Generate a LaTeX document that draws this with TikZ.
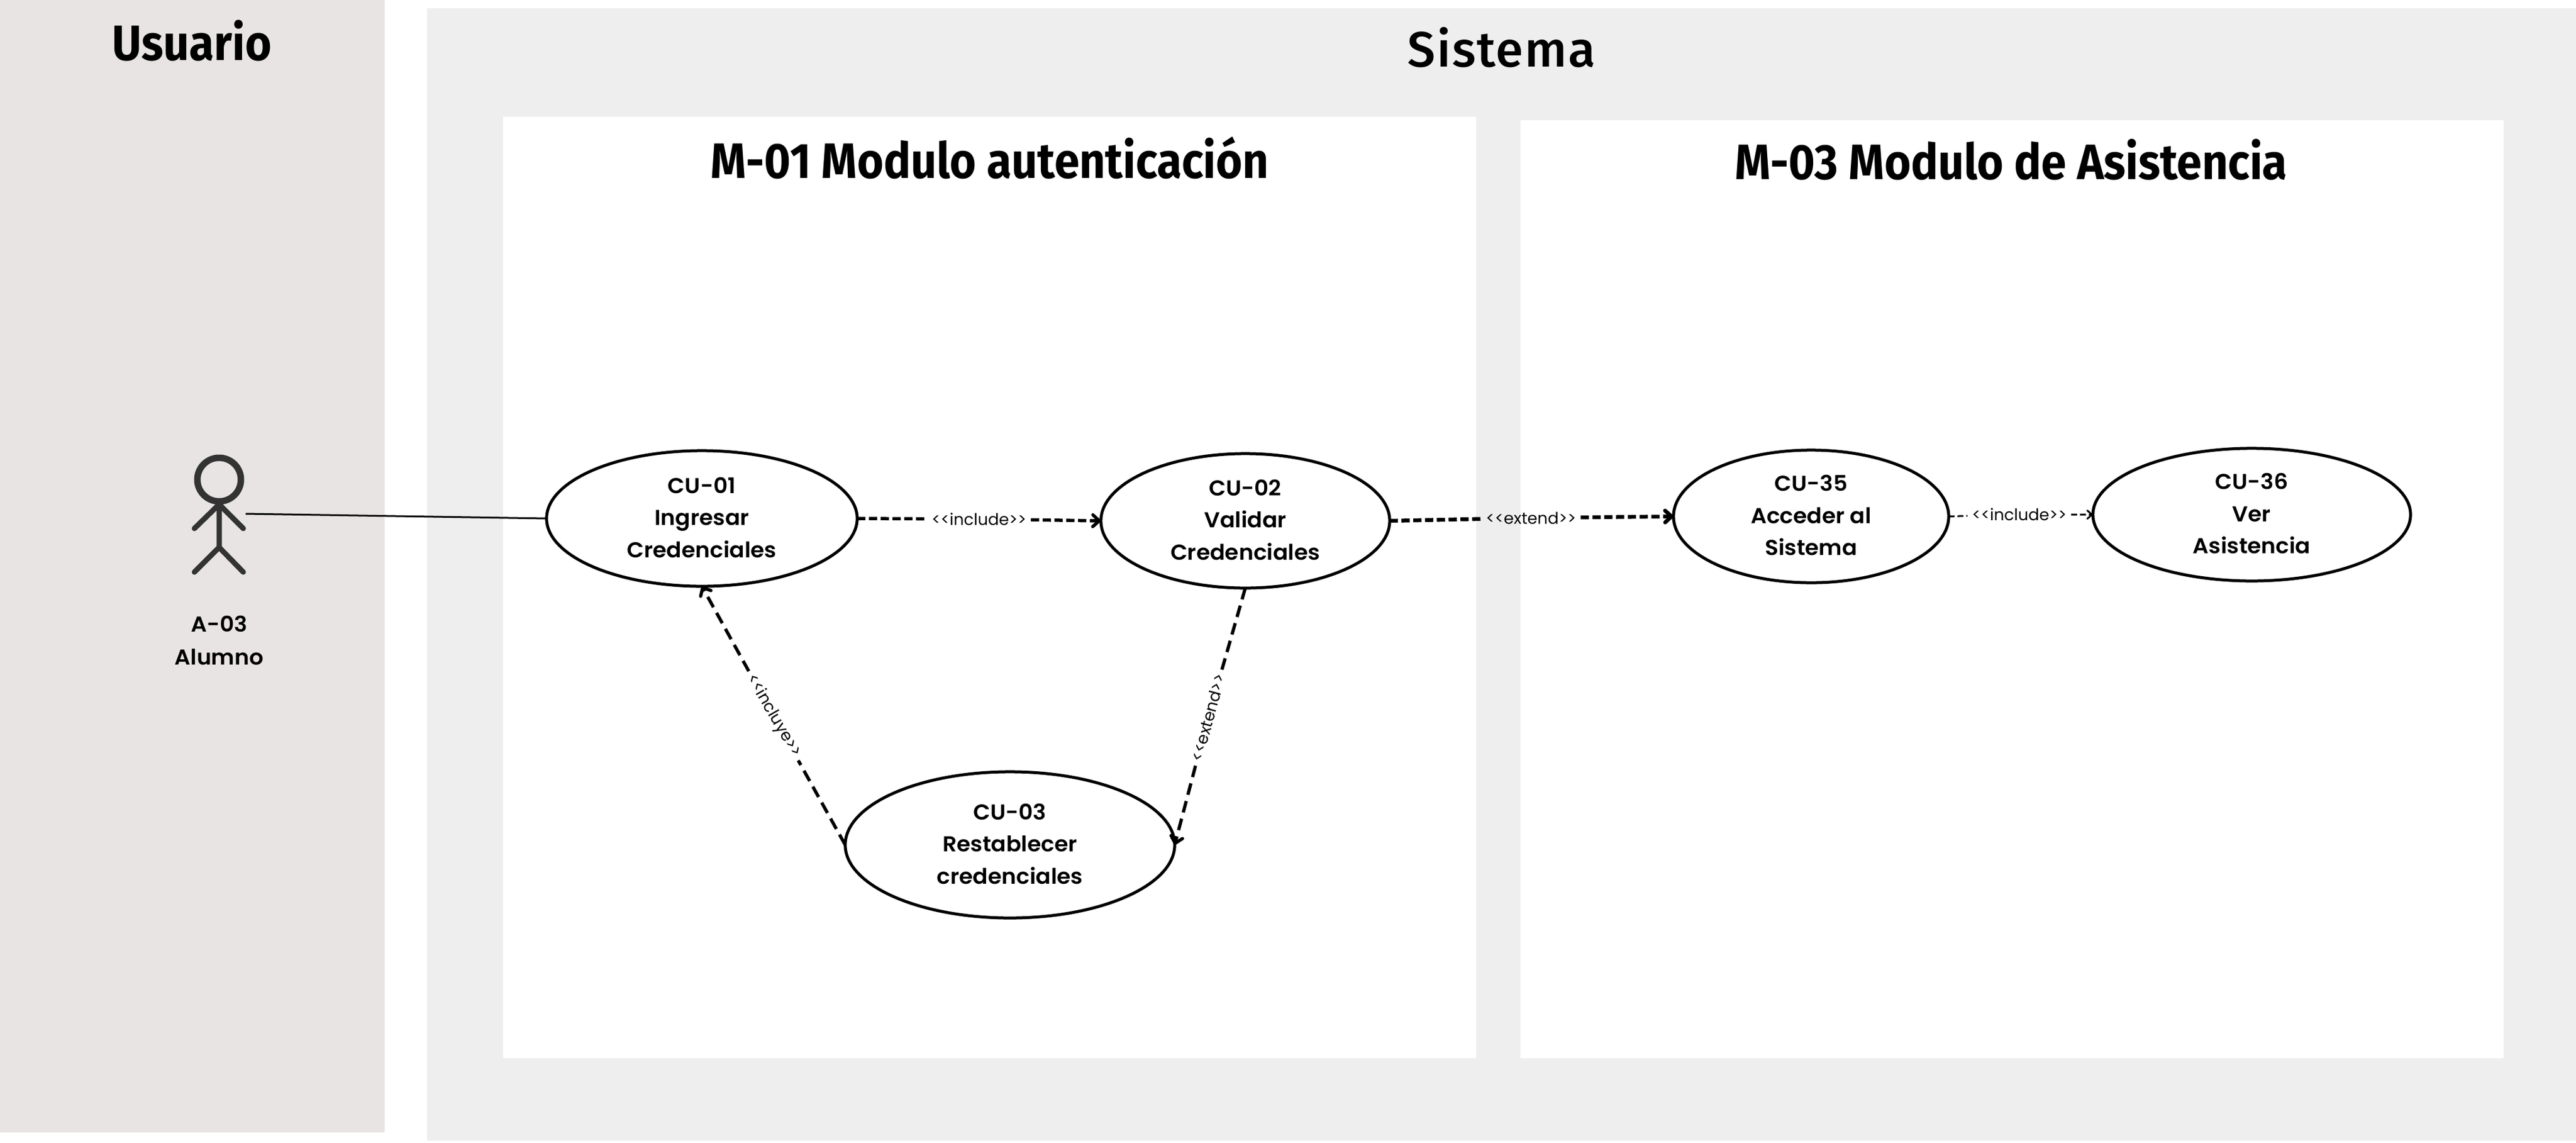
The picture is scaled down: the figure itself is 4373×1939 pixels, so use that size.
\documentclass[tikz,border=0pt]{standalone}
\usepackage{fontspec}
\setmainfont{Fira Sans}[FakeStretch=0.91]
\newfontfamily\sistemafont{Fira Sans Medium}[LetterSpace=2.5]
\newfontfamily\casofont{Poppins SemiBold}[FakeStretch=1.03]
\newfontfamily\tagfont{Poppins}
\usetikzlibrary{shapes.geometric,arrows.meta}
\definecolor{fondousuario}{HTML}{E8E4E3}
\definecolor{fondosistema}{HTML}{EEEEEE}
\definecolor{monigote}{HTML}{333333}
\tikzset{
  caso/.style={ellipse,draw=black,line width=0.05cm,fill=white,inner sep=0pt,outer sep=0pt,align=center,text depth=1pt,
    font=\casofont\fontsize{10.4}{15.5}\selectfont},
  etiqueta/.style={font=\tagfont\fontsize{7.8}{9}\selectfont,inner sep=2pt},
  dep/.style={draw=black,line width=0.055cm,dash pattern=on 0.14cm off 0.06cm,-{Straight Barb[length=0.11cm,width=0.2cm,round]}},
  deplargo/.style={dep,dash pattern=on 0.2cm off 0.11cm},
  depfino/.style={dep,line width=0.03cm,dash pattern=on 0.1cm off 0.05cm,-{Straight Barb[length=0.08cm,width=0.14cm,round]}},
  titulo/.style={font=\bfseries\fontsize{24}{28}\selectfont,inner sep=0pt}
}
\begin{document}
\begin{tikzpicture}[x=0.01cm,y=-0.01cm]
    \useasboundingbox (0,0) rectangle (4373,1939);
    % zonas de fondo
    \fill[fondousuario] (0,0) rectangle (653,1922);
    \fill[fondosistema] (725,14) rectangle (4373,1936);
    \fill[white] (854,198) rectangle (2506,1796);
    \fill[white] (2581,204) rectangle (4250,1796);

    \node[titulo] (usuario) at (326,69) {Usuario};
    \node[titulo,font=\sistemafont\fontsize{24}{28}\selectfont] (sistema) at (2549,80) {Sistema};
    \node[titulo] (modulo1) at (1680,268) {M-01 Modulo autenticación};
    \node[titulo] (modulo3) at (3414,271) {M-03 Modulo de Asistencia};

    % monigote
    \draw[monigote,line width=0.11cm,line cap=round] (372,814) circle (37);
    \draw[monigote,line width=0.09cm,line cap=round,line join=round]
    (330,897) -- (372,856) -- (413,897) (372,856) -- (372,929)
    (330,971) -- (372,929) -- (413,971);
    \coordinate (mano) at (417,872);
    \node[align=center,text depth=1pt,font=\casofont\fontsize{10.4}{15.9}\selectfont] (alumno) at (372,1089) {A-03\\Alumno};

    % casos de uso
    \node[caso,minimum width=5.27cm,minimum height=2.30cm] (cu01) at (1191.5,880) {CU-01\\Ingresar\\Credenciales};
    \node[caso,minimum width=4.90cm,minimum height=2.28cm] (cu02) at (2114,884) {CU-02\\Validar\\Credenciales};
    \node[caso,minimum width=5.59cm,minimum height=2.48cm] (cu03) at (1714.5,1434) {CU-03\\Restablecer\\credenciales};
    \node[caso,minimum width=4.67cm,minimum height=2.25cm] (cu35) at (3074.5,876.5) {CU-35\\Acceder al\\Sistema};
    \node[caso,minimum width=5.39cm,minimum height=2.25cm] (cu36) at (3822.5,873.5) {CU-36\\Ver\\Asistencia};

    % etiquetas
    \node[etiqueta] (inc1) at (1662,881) {<<include>>};
    \node[etiqueta] (ext1) at (2599,879) {<<extend>>};
    \node[etiqueta] (inc2) at (3428,873) {<<include>>};
    \node[etiqueta,rotate=-60] (inc3) at (1313,1215) {<<incluye>>};
    \node[etiqueta,rotate=75] (ext2) at (2051,1218) {<<extend>>};

    \draw[black,line width=0.03cm] (mano) -- (cu01.west);
    \draw[dep,-] (cu01.east) -- (inc1);
    \draw[dep] (inc1) -- (cu02.west);
    \draw[dep,line width=0.065cm,-] (cu02.east) -- (ext1);
    \draw[dep,line width=0.065cm] (ext1) -- (cu35.west);
    \draw[depfino,-] (cu35.east) -- (inc2);
    \draw[depfino] (inc2) -- (cu36.west);
    \draw[deplargo,-] (cu03.west) -- (inc3);
    \draw[deplargo] (inc3) -- (cu01.south);
    \draw[deplargo,-] (cu02.south) -- (ext2);
    \draw[deplargo] (ext2) -- (cu03.east);
\end{tikzpicture}
\end{document}
